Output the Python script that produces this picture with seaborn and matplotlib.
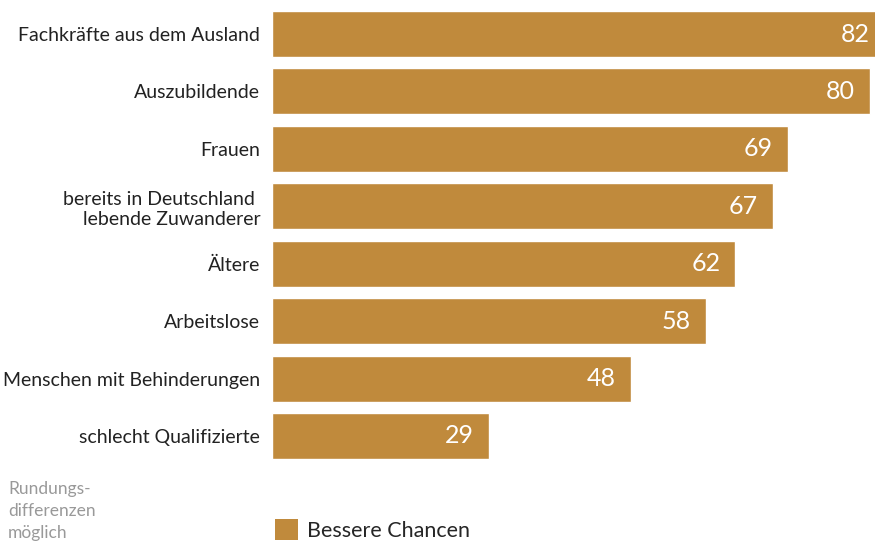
import matplotlib
matplotlib.use("Agg")
import matplotlib.pyplot as plt
import seaborn as sns
import pandas as pd
from matplotlib.patches import Patch

categories = [
    "Fachkräfte aus dem Ausland",
    "Auszubildende",
    "Frauen",
    "bereits in Deutschland \nlebende Zuwanderer",
    "Ältere",
    "Arbeitslose",
    "Menschen mit Behinderungen",
    "schlecht Qualifizierte",
]
values = [82, 80, 69, 67, 62, 58, 48, 29]
series_name = "Bessere Chancen"
note = "Rundungs-\ndifferenzen\nmöglich"

bar_color = "#C08A3C"

sns.set_theme(style="white")
plt.rcParams["font.family"] = ["Lato", "DejaVu Sans"]

df = pd.DataFrame({"Gruppe": categories, "Wert": values})

fig = plt.figure(figsize=(8.75, 5.42), dpi=100)
ax = fig.add_axes([272 / 875, 1 - 464.7 / 542, 613 / 875, (464.7 - 5.3) / 542])

sns.barplot(data=df, x="Wert", y="Gruppe", color=bar_color, saturation=1,
            width=0.8, ax=ax)

ax.set_xlim(0, 82)
ax.set_ylim(7.5, -0.5)
ax.set_xlabel("")
ax.set_ylabel("")
ax.set_xticks([])
for s in ax.spines.values():
    s.set_visible(False)
ax.tick_params(axis="y", length=0, pad=8.5, labelsize=14, labelcolor="#222222")
for lbl in ax.get_yticklabels():
    lbl.set_horizontalalignment("right")
    lbl.set_multialignment("right")

for i, v in enumerate(values):
    ax.text(v - 2.0, i, f"{v}", ha="right", va="center", color="white",
            fontsize=18)

fig.text(8 / 875, 1 - 481 / 542, note, ha="left", va="top", color="#999999",
         fontsize=12.5, linespacing=1.45)

fig.legend(handles=[Patch(facecolor=bar_color, edgecolor="none", label=series_name)],
           loc="lower left", bbox_to_anchor=(275 / 875, 1 / 542), frameon=False,
           fontsize=15.5, handlelength=1.05, handleheight=1.15, handletextpad=0.45,
           borderpad=0, borderaxespad=0)

fig.savefig("out.png", dpi=100, facecolor="white")
